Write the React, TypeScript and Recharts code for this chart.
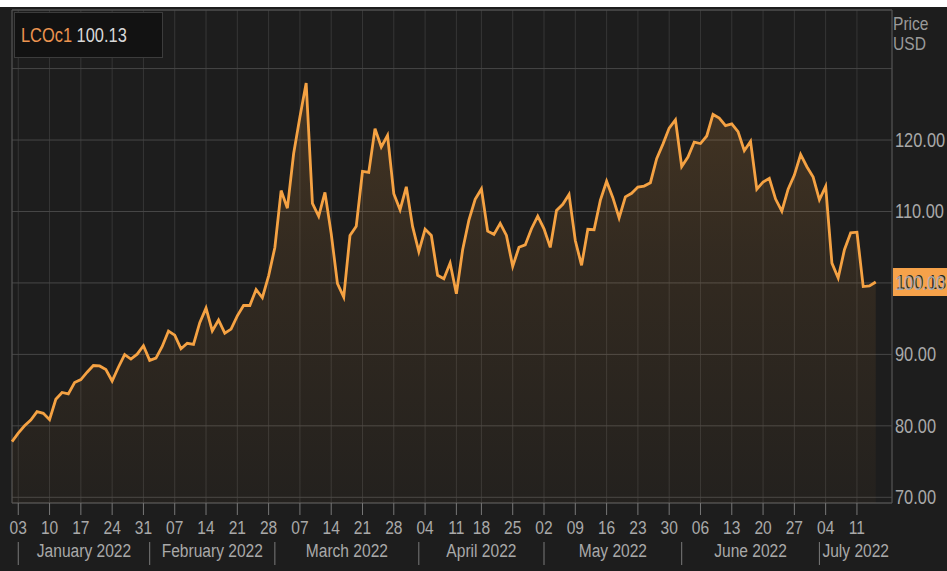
import React from "react";
import {
  AreaChart,
  Area,
  XAxis,
  YAxis,
  CartesianGrid,
  ReferenceArea,
  ReferenceLine,
} from "recharts";

// Brent front-month (LCOc1) trading days, Good Friday has no print
const tradeDates = [
  "2021-12-31",
  "2022-01-03", "2022-01-04", "2022-01-05", "2022-01-06", "2022-01-07",
  "2022-01-10", "2022-01-11", "2022-01-12", "2022-01-13", "2022-01-14",
  "2022-01-17", "2022-01-18", "2022-01-19", "2022-01-20", "2022-01-21",
  "2022-01-24", "2022-01-25", "2022-01-26", "2022-01-27", "2022-01-28",
  "2022-01-31", "2022-02-01", "2022-02-02", "2022-02-03", "2022-02-04",
  "2022-02-07", "2022-02-08", "2022-02-09", "2022-02-10", "2022-02-11",
  "2022-02-14", "2022-02-15", "2022-02-16", "2022-02-17", "2022-02-18",
  "2022-02-21", "2022-02-22", "2022-02-23", "2022-02-24", "2022-02-25",
  "2022-02-28", "2022-03-01", "2022-03-02", "2022-03-03", "2022-03-04",
  "2022-03-07", "2022-03-08", "2022-03-09", "2022-03-10", "2022-03-11",
  "2022-03-14", "2022-03-15", "2022-03-16", "2022-03-17", "2022-03-18",
  "2022-03-21", "2022-03-22", "2022-03-23", "2022-03-24", "2022-03-25",
  "2022-03-28", "2022-03-29", "2022-03-30", "2022-03-31", "2022-04-01",
  "2022-04-04", "2022-04-05", "2022-04-06", "2022-04-07", "2022-04-08",
  "2022-04-11", "2022-04-12", "2022-04-13", "2022-04-14",
  "2022-04-18", "2022-04-19", "2022-04-20", "2022-04-21", "2022-04-22",
  "2022-04-25", "2022-04-26", "2022-04-27", "2022-04-28", "2022-04-29",
  "2022-05-02", "2022-05-03", "2022-05-04", "2022-05-05", "2022-05-06",
  "2022-05-09", "2022-05-10", "2022-05-11", "2022-05-12", "2022-05-13",
  "2022-05-16", "2022-05-17", "2022-05-18", "2022-05-19", "2022-05-20",
  "2022-05-23", "2022-05-24", "2022-05-25", "2022-05-26", "2022-05-27",
  "2022-05-30", "2022-05-31", "2022-06-01", "2022-06-02", "2022-06-03",
  "2022-06-06", "2022-06-07", "2022-06-08", "2022-06-09", "2022-06-10",
  "2022-06-13", "2022-06-14", "2022-06-15", "2022-06-16", "2022-06-17",
  "2022-06-20", "2022-06-21", "2022-06-22", "2022-06-23", "2022-06-24",
  "2022-06-27", "2022-06-28", "2022-06-29", "2022-06-30", "2022-07-01",
  "2022-07-04", "2022-07-05", "2022-07-06", "2022-07-07", "2022-07-08",
  "2022-07-11", "2022-07-12", "2022-07-13", "2022-07-14",
];

const brentClose = [
  77.78,
  78.98, 80.0, 80.8, 81.99, 81.75,
  80.87, 83.72, 84.67, 84.47, 86.06,
  86.48, 87.51, 88.44, 88.38, 87.89,
  86.27, 88.2, 89.96, 89.34, 90.03,
  91.21, 89.16, 89.47, 91.11, 93.27,
  92.69, 90.78, 91.55, 91.41, 94.44,
  96.48, 93.28, 94.81, 92.97, 93.54,
  95.39, 96.84, 96.84, 99.08, 97.93,
  100.99, 104.97, 112.93, 110.46, 118.11,
  123.21, 127.98, 111.14, 109.33, 112.67,
  106.9, 99.91, 98.02, 106.64, 107.93,
  115.62, 115.48, 121.6, 119.03, 120.65,
  112.48, 110.23, 113.45, 107.91, 104.39,
  107.53, 106.64, 101.07, 100.58, 102.78,
  98.48, 104.64, 108.78, 111.7,
  113.16, 107.25, 106.8, 108.33, 106.65,
  102.32, 104.99, 105.32, 107.59, 109.34,
  107.58, 104.97, 110.14, 111.0, 112.39,
  105.94, 102.46, 107.51, 107.45, 111.55,
  114.24, 111.93, 109.11, 112.04, 112.55,
  113.42, 113.56, 114.03, 117.4, 119.43,
  121.67, 122.84, 116.29, 117.61, 119.72,
  119.51, 120.57, 123.58, 123.07, 122.01,
  122.27, 121.17, 118.51, 119.81, 113.12,
  114.13, 114.65, 111.74, 110.05, 113.12,
  115.09, 117.98, 116.26, 114.81, 111.63,
  113.5, 102.77, 100.69, 104.65, 107.02,
  107.1, 99.49, 99.57, 100.13,
];

const monthNames = [
  "January 2022",
  "February 2022",
  "March 2022",
  "April 2022",
  "May 2022",
  "June 2022",
  "July 2022",
];

const priceTicks = [70, 80, 90, 100, 110, 120, 130];
const ricCode = "LCOc1";
const lastPrice = 100.13;

// no narrow face installed, so squeeze Liberation Sans horizontally
const FONT = "'Liberation Sans', Arial, sans-serif";
const SQUEEZE = 0.82;
const X_MAX = 140.6;
const Y_MIN = 69.2;
const Y_MAX = 138.2;

const rows = tradeDates.map((date, i) => ({ i, date, price: brentClose[i] }));

const weekTicks = rows
  .filter((r) => new Date(r.date + "T00:00:00Z").getUTCDay() === 1)
  .map((r) => r.i);
const dayLabel = new Map(rows.map((r) => [r.i, r.date.slice(8)]));

const monthStarts = monthNames.map(
  (_, m) =>
    rows.find(
      (r) => r.date.startsWith("2022") && Number(r.date.slice(5, 7)) === m + 1
    )!.i
);
const monthMids = monthStarts.map(
  (s, k) => (s + (monthStarts[k + 1] ?? X_MAX)) / 2
);

function Narrow({ x, y, anchor = "start", size = 19, fill = "#a9a9a9", children }: any) {
  return (
    <text
      transform={`translate(${x} ${y}) scale(${SQUEEZE} 1)`}
      textAnchor={anchor}
      fill={fill}
      fontSize={size}
      fontFamily={FONT}
    >
      {children}
    </text>
  );
}

function DayTick({ x, y, payload }: any) {
  return (
    <Narrow x={x} y={y + 17} anchor="middle">
      {dayLabel.get(payload.value)}
    </Narrow>
  );
}

function MonthTick({ x, y, payload }: any) {
  const k = monthMids.indexOf(payload.value);
  if (k >= 0) {
    return (
      <Narrow x={x} y={y + 24} anchor="middle">
        {monthNames[k]}
      </Narrow>
    );
  }
  return <line x1={x} x2={x} y1={y + 9} y2={y + 32} stroke="#7a7a7a" />;
}

function PriceTick({ x, y, payload }: any) {
  if (payload.value === 130) return <g />;
  return (
    <Narrow x={x} y={y + 7} size={20}>
      {payload.value.toFixed(2)}
    </Narrow>
  );
}

function LastBadge({ viewBox }: any) {
  const left = viewBox.x + viewBox.width + 1;
  return (
    <g>
      <rect x={left} y={viewBox.y - 14} width={60} height={28} fill="#f6a24a" />
      <Narrow x={left + 3} y={viewBox.y + 7} size={20} fill="#262626">
        {lastPrice.toFixed(2)}
      </Narrow>
    </g>
  );
}

const narrowSpan: React.CSSProperties = {
  display: "inline-block",
  transform: `scaleX(${SQUEEZE})`,
  transformOrigin: "left center",
};

export default function App() {
  return (
    <div
      style={{
        position: "absolute",
        left: 0,
        top: 0,
        width: 947,
        height: 571,
        background: "#ffffff",
        overflow: "hidden",
      }}
    >
      <div
        style={{
          position: "absolute",
          left: 0,
          top: 7,
          width: 947,
          height: 564,
          background: "#1d1d1d",
        }}
      >
        <AreaChart
          width={947}
          height={564}
          data={rows}
          margin={{ top: 3, right: 0, bottom: 3, left: 12 }}
        >
          <defs>
            <linearGradient id="brentFill" x1="0" y1="0" x2="0" y2="1">
              <stop offset="0%" stopColor="#f7a13e" stopOpacity={0.3} />
              <stop offset="40%" stopColor="#f7a13e" stopOpacity={0.17} />
              <stop offset="100%" stopColor="#f7a13e" stopOpacity={0.05} />
            </linearGradient>
          </defs>
          <CartesianGrid horizontal={false} stroke="#363636" />
          <CartesianGrid vertical={false} stroke="#474747" />
          <XAxis
            dataKey="i"
            type="number"
            domain={[0, X_MAX]}
            ticks={weekTicks}
            interval={0}
            tick={DayTick}
            tickSize={12}
            tickLine={{ stroke: "#777777" }}
            axisLine={false}
            height={30}
          />
          <XAxis
            xAxisId="month"
            dataKey="i"
            type="number"
            domain={[0, X_MAX]}
            ticks={[...monthStarts, ...monthMids]}
            interval={0}
            tick={MonthTick}
            tickSize={0}
            tickMargin={0}
            tickLine={false}
            axisLine={false}
            height={35}
          />
          <YAxis
            orientation="right"
            type="number"
            domain={[Y_MIN, Y_MAX]}
            ticks={priceTicks}
            interval={0}
            tick={PriceTick}
            tickSize={0}
            tickMargin={3}
            tickLine={false}
            axisLine={false}
            width={55}
          />
          <ReferenceArea
            x1={0}
            x2={X_MAX}
            y1={Y_MIN}
            y2={Y_MAX}
            fill="none"
            stroke="#555555"
          />
          <Area
            dataKey="price"
            type="linear"
            stroke="#f5a243"
            strokeWidth={2.8}
            fill="url(#brentFill)"
            dot={false}
            activeDot={false}
            isAnimationActive={false}
          />
          <ReferenceLine y={lastPrice} stroke="none" label={LastBadge} />
        </AreaChart>

        <div
          style={{
            position: "absolute",
            left: 14,
            top: 5,
            width: 149,
            height: 46,
            boxSizing: "border-box",
            background: "#121212",
            border: "1px solid #3c3c3c",
            paddingLeft: 6,
            fontFamily: FONT,
            fontSize: 20,
            lineHeight: "44px",
            whiteSpace: "nowrap",
          }}
        >
          <span style={{ ...narrowSpan, color: "#ec9450" }}>
            {ricCode}{" "}
            <span style={{ color: "#d8d8d8" }}>{lastPrice.toFixed(2)}</span>
          </span>
        </div>

        <div
          style={{
            position: "absolute",
            left: 893,
            top: 7,
            color: "#9a9a9a",
            fontFamily: FONT,
            fontSize: 19,
            lineHeight: "20px",
            transform: `scaleX(${SQUEEZE})`,
            transformOrigin: "left top",
          }}
        >
          Price
          <br />
          USD
        </div>
      </div>
    </div>
  );
}
